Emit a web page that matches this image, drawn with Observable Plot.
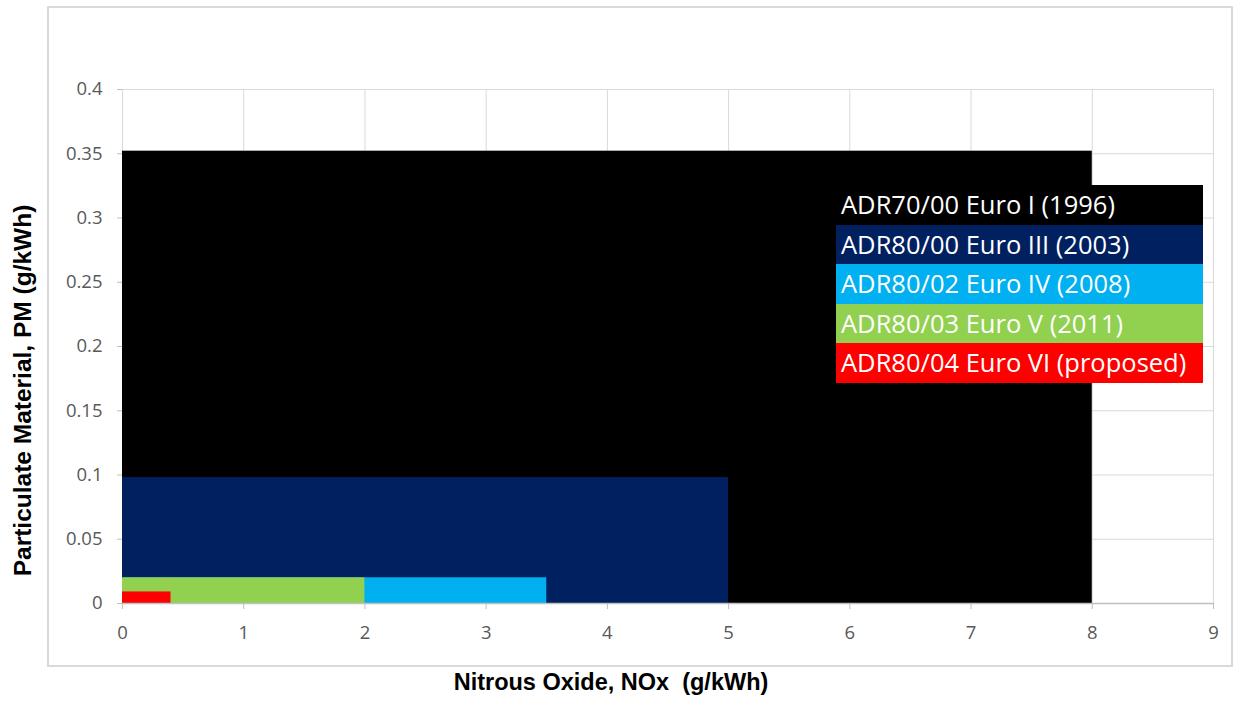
<!DOCTYPE html>
<html>
<head>
<meta charset="utf-8">
<script src="https://cdn.jsdelivr.net/npm/d3@7"></script>
<script src="https://cdn.jsdelivr.net/npm/@observablehq/plot@0.6"></script>
<style>
  html, body { margin: 0; padding: 0; background: #fff; }
  #wrap { position: relative; width: 1248px; height: 704px; overflow: hidden; }
  #frame { position: absolute; left: 47px; top: 6px; width: 1182px; height: 657px; border: 2px solid #d9d9d9; pointer-events: none; }
  #chart { position: absolute; left: 0; top: 0; }
  #legend { position: absolute; left: 836px; top: 185px; width: 367px; font-family: "Open Sans", sans-serif; font-size: 25.5px; color: #fff; }
  #legend div { height: 39.6px; line-height: 39.6px; padding-left: 5px; white-space: nowrap; overflow: hidden; }
</style>
</head>
<body>
<div id="wrap">
  <div id="frame"></div>
  <div id="chart"></div>
  <div id="legend"></div>
</div>
<script>
const standards = ["ADR70/00 Euro I (1996)", "ADR80/00 Euro III (2003)", "ADR80/02 Euro IV (2008)", "ADR80/03 Euro V (2011)", "ADR80/04 Euro VI (proposed)"];
const noxLimits = [8, 5, 3.5, 2, 0.4];
const pmLimits = [0.352, 0.098, 0.02, 0.02, 0.009];
const colors = ["#000000", "#002060", "#00b0f0", "#92d050", "#ff0000"];
const xTicks = [0, 1, 2, 3, 4, 5, 6, 7, 8, 9];
const yTicks = [0, 0.05, 0.1, 0.15, 0.2, 0.25, 0.3, 0.35, 0.4];
const xTitle = "Nitrous Oxide, NOx\u00a0 (g/kWh)";
const yTitle = "Particulate Material, PM (g/kWh)";

const data = standards.map((s, i) => ({name: s, nox: noxLimits[i], pm: pmLimits[i]}));
const fmt = d => String(Math.round(d * 100) / 100);

const plot = Plot.plot({
  width: 1248,
  height: 704,
  marginLeft: 122,
  marginRight: 35,
  marginTop: 89,
  marginBottom: 101,
  style: {background: "transparent", fontFamily: "'Open Sans', sans-serif"},
  x: {domain: [0, 9], ticks: xTicks},
  y: {domain: [0, 0.4], ticks: yTicks},
  color: {domain: standards, range: colors},
  marks: [
    Plot.gridY(yTicks, {stroke: "#d9d9d9", strokeOpacity: 1, strokeWidth: 1}),
    Plot.gridX(xTicks, {stroke: "#d9d9d9", strokeOpacity: 1, strokeWidth: 1}),
    Plot.rect(data, {x1: () => 0, x2: "nox", y1: () => 0, y2: "pm", fill: "name"}),
    Plot.ruleY([0], {stroke: "#bfbfbf", strokeWidth: 1.5}),
    Plot.axisY(yTicks, {text: null, tickSize: 5, stroke: "#bfbfbf", label: null}),
    Plot.axisY(yTicks, {tickSize: 0, tickPadding: 20, tickFormat: fmt, fill: "#595959", fontSize: 18.5, label: null}),
    Plot.axisX(xTicks, {text: null, tickSize: 6, stroke: "#bfbfbf", label: null}),
    Plot.axisX(xTicks, {tickSize: 0, tickPadding: 22, tickFormat: fmt, fill: "#595959", fontSize: 18.5, label: null}),
    Plot.text([yTitle], {text: d => d, frameAnchor: "left", textAnchor: "middle", rotate: -90, dx: -99, dy: 44, fontSize: 24.5, fontWeight: "bold", fill: "#000", fontFamily: "'Liberation Sans', Arial, sans-serif"}),
    Plot.text([xTitle], {text: d => d, frameAnchor: "bottom", textAnchor: "middle", dy: 86, dx: -57, fontSize: 23.5, fontWeight: "bold", fill: "#000", fontFamily: "'Liberation Sans', Arial, sans-serif"})
  ]
});
document.getElementById("chart").appendChild(plot);

const legend = document.getElementById("legend");
standards.forEach((s, i) => {
  const row = document.createElement("div");
  row.textContent = s;
  row.style.background = colors[i];
  legend.appendChild(row);
});
</script>
</body>
</html>
